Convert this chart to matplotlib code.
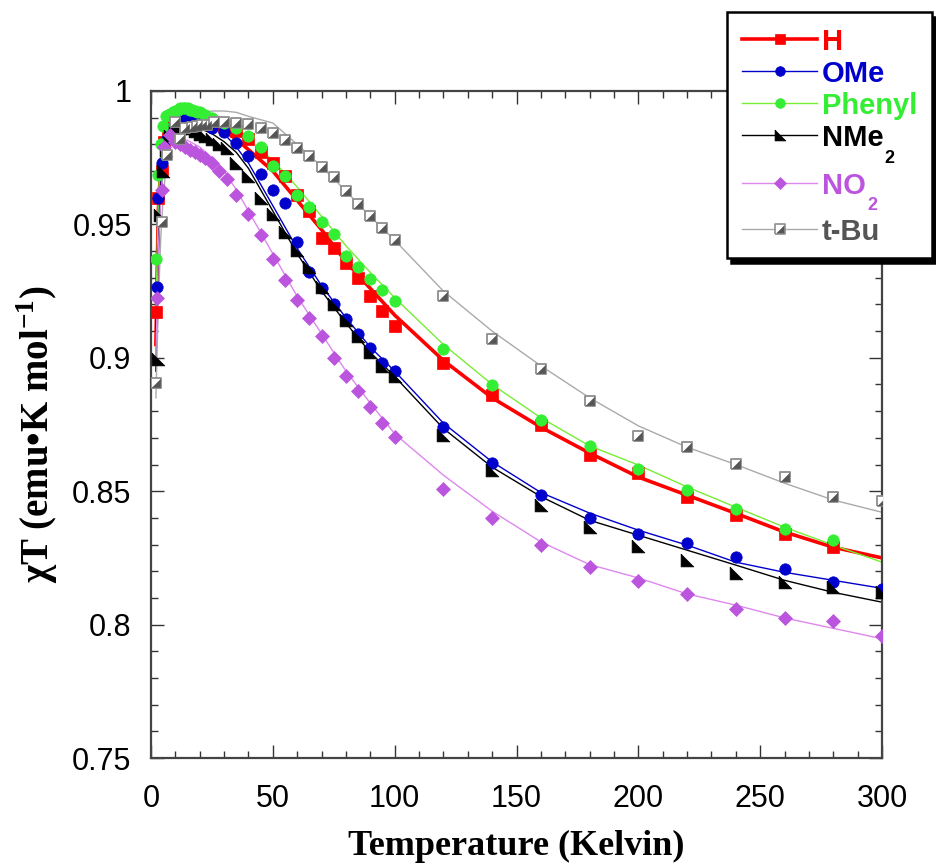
import numpy as np
import matplotlib
matplotlib.use("Agg")
import matplotlib.pyplot as plt
from matplotlib.ticker import MultipleLocator, FuncFormatter
from matplotlib.patches import Rectangle

plt.rcParams['mathtext.fontset'] = 'custom'
plt.rcParams['mathtext.rm'] = 'Liberation Serif:bold'
plt.rcParams['mathtext.bf'] = 'Liberation Sans:bold'

# ---- measured chi*T data (emu K mol^-1) ----
T_H = [2, 3, 4.5, 5.5, 7, 8.5, 10, 12, 14, 16, 18, 20, 25, 30, 35, 40, 45, 50, 55, 60,
       65, 70, 75, 80, 85, 90, 95, 100, 120, 140, 160, 180, 200, 220, 240, 260, 280]
chi_H = [0.917, 0.960, 0.970, 0.981, 0.985, 0.987, 0.988, 0.989, 0.990, 0.990, 0.9895, 0.989,
         0.988, 0.987, 0.985, 0.982, 0.977, 0.973, 0.968, 0.961, 0.955, 0.945, 0.941, 0.9355,
         0.930, 0.923, 0.9175, 0.912, 0.898, 0.886, 0.875, 0.8635, 0.857, 0.848, 0.841, 0.834, 0.829]

T_OMe = [2.5, 3, 4.5, 6.5, 8, 10, 12, 14, 16, 18, 20, 25, 30, 35, 40, 45, 50, 55, 60, 65,
         70, 75, 80, 85, 90, 95, 100, 120, 140, 160, 180, 200, 220, 240, 260, 280, 300]
chi_OMe = [0.9265, 0.960, 0.973, 0.982, 0.986, 0.988, 0.989, 0.990, 0.990, 0.990, 0.989, 0.986,
           0.9846, 0.9805, 0.9756, 0.969, 0.963, 0.958, 0.9434, 0.932, 0.926, 0.920, 0.9145,
           0.909, 0.9036, 0.898, 0.895, 0.874, 0.8605, 0.8485, 0.840, 0.834, 0.8305, 0.8253,
           0.8208, 0.816, 0.8133]

T_Ph = [2, 3, 4, 5, 6, 7, 8, 9, 10, 11, 12, 13, 14, 15, 16, 17, 18, 19, 20, 22, 25, 30, 35,
        40, 45, 50, 55, 60, 65, 70, 75, 80, 85, 90, 95, 100, 120, 140, 160, 180, 200, 220,
        240, 260, 280]
chi_Ph = [0.937, 0.9685, 0.980, 0.987, 0.9905, 0.991, 0.9915, 0.992, 0.9925, 0.993, 0.9935,
          0.9935, 0.9935, 0.9935, 0.993, 0.993, 0.9925, 0.992, 0.992, 0.991, 0.990, 0.988,
          0.986, 0.983, 0.979, 0.972, 0.968, 0.961, 0.9565, 0.951, 0.9464, 0.938, 0.934,
          0.9295, 0.9254, 0.9213, 0.9033, 0.8898, 0.8766, 0.867, 0.8583, 0.8504, 0.8433,
          0.8358, 0.8316]

T_NMe2 = [3, 3.7, 5, 6, 8, 10, 12, 14, 16, 18, 20, 22, 25, 28, 31, 35, 40, 45, 50, 55, 60,
          65, 70, 75, 80, 85, 90, 95, 100, 120, 140, 160, 180, 200, 220, 240, 260, 280, 300]
chi_NMe2 = [0.8995, 0.9535, 0.970, 0.978, 0.983, 0.985, 0.986, 0.9865, 0.986, 0.985, 0.984,
            0.983, 0.982, 0.980, 0.9786, 0.973, 0.968, 0.960, 0.954, 0.947, 0.9404, 0.934,
            0.9265, 0.920, 0.914, 0.908, 0.902, 0.897, 0.893, 0.871, 0.858, 0.845, 0.8365,
            0.8294, 0.8241, 0.8193, 0.8159, 0.814, 0.8121]

T_NO2 = [2.5, 4.5, 5.5, 8, 10, 12, 14, 16, 18, 20, 22, 25, 28, 31, 35, 40, 45, 50, 55, 60,
         65, 70, 75, 80, 85, 90, 95, 100, 120, 140, 160, 180, 200, 220, 240, 260, 280, 300]
chi_NO2 = [0.9224, 0.963, 0.979, 0.9835, 0.981, 0.980, 0.979, 0.978, 0.977, 0.976, 0.975,
           0.973, 0.970, 0.967, 0.961, 0.954, 0.946, 0.937, 0.929, 0.9216, 0.915, 0.908,
           0.900, 0.893, 0.8875, 0.8815, 0.8755, 0.8703, 0.851, 0.840, 0.8298, 0.8215,
           0.8163, 0.8114, 0.8058, 0.8024, 0.8013, 0.7956]

T_tBu = [2, 4.5, 6.5, 10, 12, 14, 17, 19, 21, 23, 26, 30, 35, 40, 45, 50, 55, 60, 65, 70,
         75, 80, 85, 90, 95, 100, 120, 140, 160, 180, 200, 220, 240, 260, 280, 300]
chi_tBu = [0.8905, 0.951, 0.976, 0.9884, 0.982, 0.9861, 0.9865, 0.9869, 0.9873, 0.9873,
           0.9884, 0.9884, 0.988, 0.9876, 0.9861, 0.9843, 0.9816, 0.9786, 0.9755, 0.9717,
           0.9676, 0.9625, 0.9578, 0.953, 0.9486, 0.9441, 0.9231, 0.907, 0.8958, 0.8838,
           0.8706, 0.8665, 0.8601, 0.8553, 0.8478, 0.8463]

# ---- model fits ----
T_fit = [2, 3, 4, 5, 6, 8, 10, 15, 20, 25, 30, 35, 40, 50, 60, 70, 80, 90, 100,
         120, 140, 160, 180, 200, 220, 240, 260, 280, 300]
fit_H = [0.905, 0.955, 0.972, 0.980, 0.984, 0.987, 0.988, 0.989, 0.9885, 0.987, 0.985, 0.982,
         0.978, 0.970, 0.959, 0.948, 0.936, 0.926, 0.916, 0.899, 0.885, 0.874, 0.8643,
         0.8553, 0.8485, 0.8417, 0.8347, 0.829, 0.825]
fit_Ph = [0.915, 0.960, 0.976, 0.983, 0.987, 0.990, 0.9915, 0.9925, 0.992, 0.990, 0.988,
          0.9855, 0.982, 0.974, 0.964, 0.953, 0.942, 0.932, 0.9225, 0.905, 0.890, 0.8775,
          0.867, 0.8598, 0.8516, 0.844, 0.8365, 0.8298, 0.8234]
fit_OMe = [0.910, 0.955, 0.970, 0.978, 0.983, 0.987, 0.989, 0.990, 0.989, 0.987, 0.984,
           0.979, 0.973, 0.957, 0.941, 0.927, 0.915, 0.904, 0.895, 0.8755, 0.861, 0.8495,
           0.8418, 0.8354, 0.8298, 0.8234, 0.8196, 0.8166, 0.8136]
fit_NMe2 = [0.895, 0.940, 0.962, 0.972, 0.978, 0.983, 0.985, 0.9865, 0.986, 0.984, 0.981,
            0.977, 0.971, 0.955, 0.939, 0.925, 0.913, 0.902, 0.893, 0.8735, 0.859, 0.848,
            0.8391, 0.8335, 0.8279, 0.8223, 0.8166, 0.8121, 0.8084]
fit_NO2 = [0.900, 0.940, 0.960, 0.972, 0.977, 0.981, 0.9825, 0.9815, 0.979, 0.975, 0.970,
           0.963, 0.955, 0.939, 0.923, 0.909, 0.895, 0.883, 0.8715, 0.856, 0.8425, 0.831,
           0.8225, 0.8175, 0.8115, 0.8073, 0.8025, 0.7986, 0.7947]
fit_tBu = [0.885, 0.920, 0.945, 0.960, 0.970, 0.980, 0.985, 0.9895, 0.9915, 0.9925, 0.9925,
           0.992, 0.9905, 0.988, 0.980, 0.9717, 0.9625, 0.953, 0.9441, 0.925, 0.910, 0.897,
           0.885, 0.8745, 0.8665, 0.860, 0.853, 0.8467, 0.8421]

names = ['H', 'OMe', 'Phenyl', 'NMe', 'NO', 't-Bu']
subscripts = ['', '', '', '2', '2', '']
text_colors = ['#ff0000', '#0000cc', '#33ee33', '#000000', '#bb55dd', '#555555']

# custom marker shapes
tri_ll = [(-1, 1), (-1, -1), (1, -1), (-1, 1)]          # right angle at lower left
tri_lr = [(1, 1), (1, -1), (-1, -1), (1, 1)]            # lower-right half of a square
square = [(-1, -1), (1, -1), (1, 1), (-1, 1), (-1, -1)]

# per-series styles: (line colour, line width, marker, size, face, edge)
styles = [
    ('#ff0000', 2.6, 's', 8.4, '#ff0000', '#ff0000'),
    ('#0000cc', 1.0, 'o', 8.2, '#0000cc', '#0000cc'),
    ('#77ee33', 1.0, 'o', 8.2, '#33ee33', '#33ee33'),
    ('#000000', 1.0, tri_ll, 9.2, '#000000', '#000000'),
    ('#dd88ee', 1.0, 'D', 6.8, '#bb55dd', '#bb55dd'),
]
TBU_LINE = '#aaaaaa'

fig = plt.figure(figsize=(9.36, 8.66), dpi=100)
ax = fig.add_axes([151 / 936, 1 - 758 / 866, 731 / 936, 667 / 866])

fits = [fit_H, fit_OMe, fit_Ph, fit_NMe2, fit_NO2]
temps = [T_H, T_OMe, T_Ph, T_NMe2, T_NO2]
vals = [chi_H, chi_OMe, chi_Ph, chi_NMe2, chi_NO2]

# fitted curves
for f, st in zip(fits, styles):
    ax.plot(T_fit, f, color=st[0], lw=st[1], zorder=2)
ax.plot(T_fit, fit_tBu, color=TBU_LINE, lw=1.0, zorder=2)

# data points
for t, v, st in zip(temps, vals, styles):
    ax.plot(t, v, ls='none', marker=st[2], ms=st[3], mfc=st[4], mec=st[5], mew=0.5, zorder=3)
ax.plot(T_tBu, chi_tBu, ls='none', marker=square, ms=7.6, mfc='white', mec='#8e8e8e', mew=1.3, zorder=4)
ax.plot(T_tBu, chi_tBu, ls='none', marker=tri_lr, ms=6.0, mfc='#555555', mec='#555555', mew=0.3, zorder=4)

ax.set_xlim(0, 300)
ax.set_ylim(0.75, 1.0)
ax.xaxis.set_major_locator(MultipleLocator(50))
ax.xaxis.set_minor_locator(MultipleLocator(10))
ax.yaxis.set_major_locator(MultipleLocator(0.05))
ax.yaxis.set_minor_locator(MultipleLocator(0.01))
ax.yaxis.set_major_formatter(FuncFormatter(lambda v, p: f'{v:g}'))
ax.tick_params(which='both', direction='in', top=True, right=True, color='#333333', width=1.0)
ax.tick_params(which='major', length=9.5, labelsize=22)
ax.tick_params(which='minor', length=4.8)
ax.tick_params(axis='x', which='major', pad=19)
ax.tick_params(axis='y', which='major', pad=14)
for lab in ax.get_xticklabels() + ax.get_yticklabels():
    lab.set_fontfamily('Liberation Sans')
for sp in ax.spines.values():
    sp.set_color('#444444')
    sp.set_linewidth(1.6)

ax.set_xlabel('Temperature (Kelvin)', family='Liberation Serif', fontweight='bold',
              fontsize=26, va='center')
ax.xaxis.set_label_coords(0.5, (758 - 846) / 667)
ax.set_ylabel('χT (emu•K mol$^{\\mathrm{-1}}$)', family='Liberation Serif', fontweight='bold',
              fontsize=28, va='center')
ax.yaxis.set_label_coords((37 - 151) / 731, (758 - 434) / 667)

# ---- legend box, laid out in figure pixels ----
lax = fig.add_axes([0, 0, 1, 1], zorder=10)
lax.set_xlim(0, 936)
lax.set_ylim(866, 0)
lax.axis('off')
box_x, box_y, box_w, box_h = 727, 12, 205, 246
lax.add_patch(Rectangle((box_x + 4, box_y + 5), box_w, box_h, facecolor='black',
                        edgecolor='black', lw=1.8, zorder=1))
lax.add_patch(Rectangle((box_x, box_y), box_w, box_h, facecolor='white',
                        edgecolor='black', lw=1.8, zorder=2))

row_y = [39, 71, 103, 135, 182.5, 229]
line_x0, line_x1, mark_x, text_x = 742, 817, 779.5, 822
legend_styles = styles + [(TBU_LINE, 1.0, None, 0, None, None)]
for i, (st, name, sub, col, y) in enumerate(zip(legend_styles, names, subscripts,
                                                text_colors, row_y)):
    lax.plot([line_x0, line_x1], [y, y], color=st[0], lw=st[1], zorder=3)
    if st[2] is not None:
        lax.plot([mark_x], [y], ls='none', marker=st[2], ms=st[3] * 0.85, mfc=st[4],
                 mec=st[5], mew=0.5, zorder=4)
    else:
        lax.plot([mark_x], [y], ls='none', marker=square, ms=6.6, mfc='white',
                 mec='#8e8e8e', mew=1.2, zorder=4)
        lax.plot([mark_x], [y], ls='none', marker=tri_lr, ms=5.2, mfc='#555555',
                 mec='#555555', mew=0.3, zorder=5)
    t = lax.text(text_x, y + 11.5, name, color=col, family='Liberation Sans',
                 fontweight='bold', fontsize=21, va='baseline', ha='left', zorder=4)
    if sub:
        lax.annotate(sub, xy=(1, 0), xycoords=t, xytext=(0.8, -7.5),
                     textcoords='offset points', color=col, family='Liberation Sans',
                     fontweight='bold', fontsize=13, va='baseline', ha='left', zorder=4)

fig.savefig('out.png', dpi=100)
